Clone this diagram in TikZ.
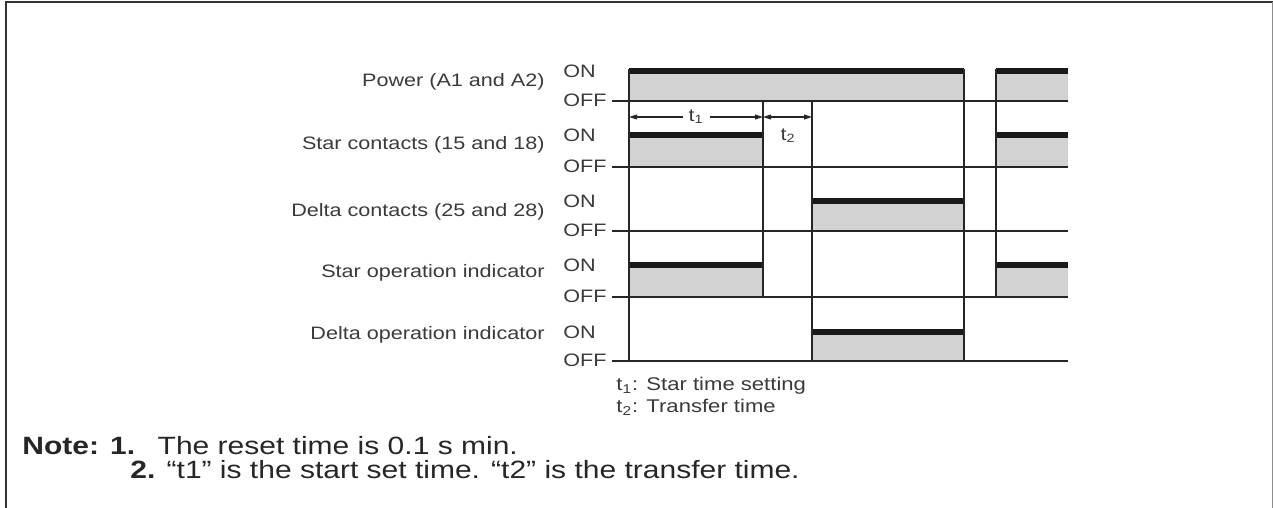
\documentclass[tikz,border=0pt]{standalone}
\usepackage{fontspec}
\setmainfont[FakeStretch=1.2]{Liberation Sans}
\usetikzlibrary{arrows.meta}
\definecolor{trace-gray}{HTML}{D2D2D2}
\definecolor{label-gray}{HTML}{3A3A3A}

\begin{document}
\begin{tikzpicture}[x=0.5pt, y=-0.5pt,
    every node/.style={font=\fontsize{9}{10}\selectfont, text=label-gray, inner sep=0pt},
    sig/.style={anchor=east},
    lvl/.style={anchor=west},
    onbar/.style={line width=2.6pt, draw=black!90},
    wire/.style={line width=0.75pt, draw=black!85},
    dim/.style={line width=0.6pt, draw=black!85,
      {Triangle[length=4pt,width=2.4pt]}-{Triangle[length=4pt,width=2.4pt]}}]
      \useasboundingbox (0,0) rectangle (1273,508);
      % frame
      \draw[line width=1.4pt, black!80] (6,508) -- (6,2) -- (1273,2);
      \draw[line width=0.5pt, black!45] (1272,2) -- (1272,508);

      % signal names and levels
      \node[sig] (pwr) at (545,82) {Power (A1 and A2)};
      \node[sig] (star) at (545,145) {Star contacts (15 and 18)};
      \node[sig] (delta) at (545,212) {Delta contacts (25 and 28)};
      \node[sig] (starind) at (545,273) {Star operation indicator};
      \node[sig] (deltaind) at (545,335) {Delta operation indicator};
      \foreach \n/\yon/\yoff in {pwr/71/100, star/135/166, delta/201/230,
          starind/265/296, deltaind/332/360} {
        \node[lvl] (\n-on) at (563,\yon) {ON};
        \node[lvl] (\n-off) at (563,\yoff) {OFF};
      }

      % on periods
      \foreach \xa/\xb/\yon/\yoff in {629/964/71/101, 996/1068/71/101,
          629/763/135/167, 996/1068/135/167, 812/964/201/231,
          629/763/265/297, 996/1068/265/297, 812/964/332/361} {
        \fill[trace-gray] (\xa,\yon) rectangle (\xb,\yoff);
        \draw[onbar] (\xa,\yon) -- (\xb,\yon);
      }
      % off lines and edges
      \foreach \y in {101,167,231,297,361}
        \draw[wire] (612,\y) -- (1068,\y);
      \foreach \x/\ya/\yb in {629/69/361, 763/101/297, 812/101/361,
          964/69/361, 996/69/297}
        \draw[wire] (\x,\ya) -- (\x,\yb);

      % times
      \coordinate (t1a) at (629,117);
      \coordinate (t1b) at (763,117);
      \coordinate (t2b) at (812,117);
      \draw[dim] (t1a) -- (t1b)
        node[midway, fill=white, inner xsep=3pt] (t1) {t\textsubscript{1}};
      \draw[dim] (t1b) -- (t2b);
      \node (t2) at (788,136) {t\textsubscript{2}};

      \node[lvl, font=\fontsize{9.2}{10}\selectfont] (key1) at (616,386)
        {t\textsubscript{1}: Star time setting};
      \node[lvl, font=\fontsize{9.2}{10}\selectfont] (key2) at (616,407)
        {t\textsubscript{2}: Transfer time};

      % notes
      \node[lvl, font=\fontsize{12.5}{14}\selectfont, text=black!85] (note1)
        at (22,446) {\textbf{Note: 1.}\hspace{0.9em}The reset time is 0.1 s min.};
      \node[lvl, font=\fontsize{12.5}{14}\selectfont, text=black!85] (note2)
        at (130,470) {\textbf{2.}\hspace{0.45em}``t1'' is the start set time. ``t2'' is the transfer time.};
    \end{tikzpicture}
\end{document}
